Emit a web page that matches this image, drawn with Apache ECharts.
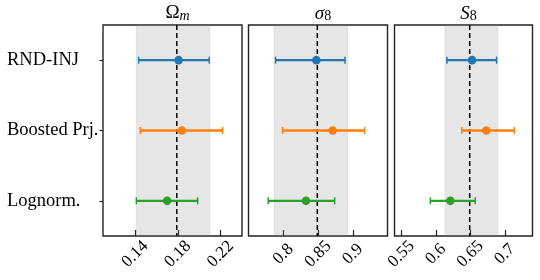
<!DOCTYPE html>
<html><head><meta charset="utf-8">
<script src="https://cdn.jsdelivr.net/npm/echarts@6/dist/echarts.min.js"></script>
<style>html,body{margin:0;padding:0;background:#fff}#c{width:540px;height:280px}</style>
</head><body><div id="c"></div>
<script>
const methods = ['RND-INJ', 'Boosted Prj.', 'Lognorm.'];
const colors = ['#1f77b4', '#ff7f0e', '#2ca02c'];
const truth = [0.179, 0.849, 0.649];
const bandLow = [0.141, 0.787, 0.613];
const bandHigh = [0.210, 0.893, 0.690];
const omCenter = [0.1807, 0.1836, 0.170];
const omLow = [0.1433, 0.1449, 0.1412];
const omHigh = [0.2094, 0.2218, 0.1985];
const sig8Center = [0.8476, 0.871, 0.8327];
const sig8Low = [0.7889, 0.799, 0.7784];
const sig8High = [0.8889, 0.917, 0.874];
const S8Center = [0.6524, 0.673, 0.621];
const S8Low = [0.616, 0.6376, 0.592];
const S8High = [0.688, 0.7135, 0.657];
const xMin = [0.11, 0.75, 0.54];
const xMax = [0.24, 0.95, 0.74];
const tickVals = [[0.14, 0.18, 0.22], [0.8, 0.85, 0.9], [0.55, 0.6, 0.65, 0.7]];
const titles = ['{a|Ω}{b|m}', '{c|σ}{d|8}', '{c|S}{d|8}'];

const centers = [omCenter, sig8Center, S8Center];
const lows = [omLow, sig8Low, S8Low];
const highs = [omHigh, sig8High, S8High];

const FONT = 'Liberation Serif';
const grids = [
  {left: 103, top: 25, width: 139, height: 211},
  {left: 248.5, top: 25, width: 139, height: 211},
  {left: 394.5, top: 25, width: 138, height: 211}
];

function renderErr(params, api) {
  const y = api.value(3);
  const c = api.coord([api.value(0), y]);
  const l = api.coord([api.value(1), y]);
  const h = api.coord([api.value(2), y]);
  const col = colors[api.value(4)];
  return {type: 'group', children: [
    {type: 'line', shape: {x1: l[0], y1: l[1], x2: h[0], y2: h[1]}, style: {stroke: col, lineWidth: 2.3}},
    {type: 'line', shape: {x1: l[0], y1: l[1] - 3.5, x2: l[0], y2: l[1] + 3.5}, style: {stroke: col, lineWidth: 1.5}},
    {type: 'line', shape: {x1: h[0], y1: h[1] - 3.5, x2: h[0], y2: h[1] + 3.5}, style: {stroke: col, lineWidth: 1.5}},
    {type: 'circle', shape: {cx: c[0], cy: c[1], r: 4.3}, style: {fill: col}}
  ]};
}

function renderBand(params, api) {
  const cs = params.coordSys;
  const x0 = api.coord([api.value(0), 0])[0];
  const x1 = api.coord([api.value(1), 0])[0];
  const xt = api.coord([api.value(2), 0])[0];
  return {type: 'group', children: [
    {type: 'rect', shape: {x: x0, y: cs.y, width: x1 - x0, height: cs.height},
      style: {fill: 'rgba(128,128,128,0.2)', stroke: 'rgba(128,128,128,0.12)', lineWidth: 1}},
    {type: 'line', z2: 5, shape: {x1: xt, y1: cs.y, x2: xt, y2: cs.y + cs.height},
      style: {stroke: '#000', lineWidth: 1.5, lineDash: [5, 3]}}
  ]};
}

const richTitle = {
  a: {fontFamily: FONT, fontSize: 19, fontWeight: 'normal', color: '#000', padding: [0, 0, 5, 0]},
  b: {fontFamily: FONT, fontSize: 14, fontStyle: 'italic', fontWeight: 'normal', color: '#000'},
  c: {fontFamily: FONT, fontSize: 19, fontStyle: 'italic', fontWeight: 'normal', color: '#000', padding: [0, 0, 5, 0]},
  d: {fontFamily: FONT, fontSize: 14, fontWeight: 'normal', color: '#000'}
};

const series = [];
grids.forEach((g, i) => {
  series.push({
    type: 'custom', xAxisIndex: i, yAxisIndex: i, z: 1, silent: true,
    renderItem: renderBand, clip: false,
    encode: {x: [0, 1, 2]},
    data: [[bandLow[i], bandHigh[i], truth[i]]]
  });
  series.push({
    type: 'custom', xAxisIndex: i, yAxisIndex: i, z: 10,
    renderItem: renderErr,
    encode: {x: [0, 1, 2], y: 3},
    data: methods.map((m, k) => [centers[i][k], lows[i][k], highs[i][k], k, k])
  });
});

const option = {
  animation: false,
  backgroundColor: '#fff',
  title: grids.map((g, i) => ({
    text: titles[i], left: g.left + g.width / 2, top: -1, textAlign: 'center',
    textStyle: {fontWeight: 'normal', rich: richTitle}
  })),
  grid: grids.map(g => Object.assign({show: true, borderColor: '#222', borderWidth: 1.4, backgroundColor: 'transparent'}, g)),
  xAxis: grids.map((g, i) => ({
    type: 'value', gridIndex: i, min: xMin[i], max: xMax[i],
    splitLine: {show: false},
    axisLine: {show: false},
    axisTick: {show: true, inside: true, length: 6, lineStyle: {color: '#222', width: 1.2}, customValues: tickVals[i]},
    axisLabel: {show: true, rotate: 45, align: 'center', verticalAlign: 'middle', margin: 18,
      fontFamily: FONT, fontSize: 17, color: '#000', customValues: tickVals[i],
      formatter: v => String(+v.toFixed(3))}
  })),
  yAxis: grids.map((g, i) => ({
    type: 'category', gridIndex: i, data: methods, inverse: true,
    axisLine: {show: false},
    splitLine: {show: false},
    axisTick: {show: i === 0, alignWithLabel: true, length: 3.5, lineStyle: {color: '#222', width: 1.2}},
    axisLabel: {show: i === 0, align: 'left', margin: 96, fontFamily: FONT, fontSize: 18.5, color: '#000'}
  })),
  series: series
};
const chart = echarts.init(document.getElementById('c'), null, {renderer: 'canvas'});
chart.setOption(option);
</script></body></html>
